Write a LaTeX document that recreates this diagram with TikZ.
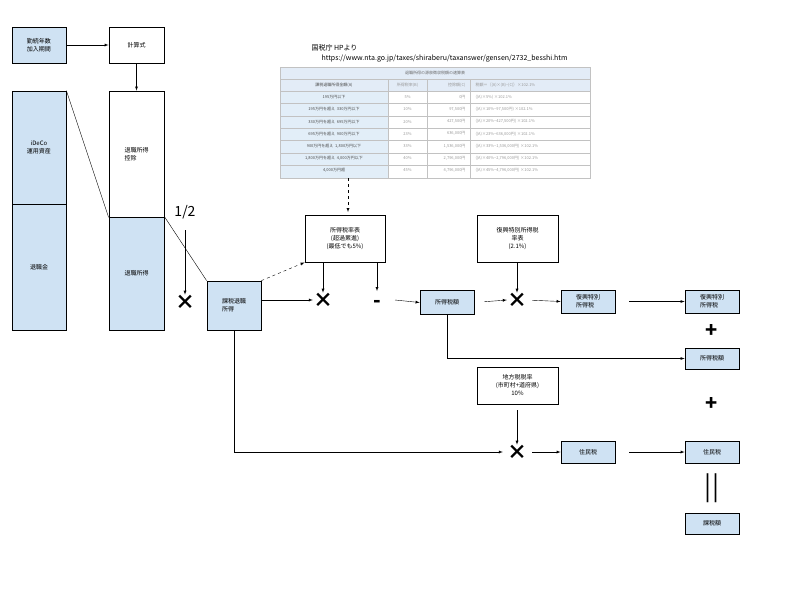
\documentclass[tikz,border=0pt]{standalone}
\usepackage{fontspec}
\setmainfont{Noto Sans CJK JP}
\usetikzlibrary{positioning,calc}
\definecolor{boxblue}{HTML}{CFE2F3}
\definecolor{tblgray}{HTML}{999999}
\definecolor{tblhead}{HTML}{E3ECF7}
\tikzset{
  box/.style={draw,thick,fill=boxblue,minimum width=54pt,font=\fontsize{6}{8}\selectfont,align=left},
  wbox/.style={draw,thick,fill=white,font=\fontsize{6}{8}\selectfont,align=center},
  op/.style={font=\fontsize{20}{20}\selectfont\bfseries,inner sep=0pt},
  arr/.style={-latex,thin},
}
\begin{document}
\begin{tikzpicture}[x=1pt,y=-1pt]
  \useasboundingbox (0,0) rectangle (800,600);
  % left columns
  \node[box,minimum height=36pt,align=center] (kinzoku) at (39,45) {勤続年数\\加入期間};
  \node[wbox,minimum width=55pt,minimum height=36pt] (keisan) at (136.5,45) {計算式};
  \draw[arr] (kinzoku) -- (keisan);
  \node[box,minimum height=113pt,align=center] (ideco) at (39,147.5) {iDeCo\\運用資産};
  \node[box,minimum height=126pt] (taishokukin) at (39,267) {退職金};
  \node[wbox,minimum width=55pt,minimum height=126pt,align=left] (kojo) at (136.5,154) {退職所得\\控除};
  \node[box,minimum width=55pt,minimum height=113pt] (shotoku) at (136.5,273.5) {退職所得};
  \draw[arr] (keisan) -- (kojo);
  \draw (ideco.north east) -- (kojo.south west);
  \node[box,minimum height=49pt] (kazei) at (234,305.5) {課税退職\\所得};
  \draw (shotoku.north east) -- (kazei.north west);
  \node[font=\fontsize{14}{14}\selectfont] (half) at (185,212) {1/2};
  \node[op] (x1) at (185,302) {×};
  \draw[arr] ($(half.south)+(0,8)$) -- (x1.north);
  % table
  \node[font=\fontsize{7}{8}\selectfont,anchor=west] (src) at (308,48) {国税庁 HPより};
  \node[font=\fontsize{7}{8}\selectfont,anchor=west] (url) at (318,59) {https://www.nta.go.jp/taxes/shiraberu/taxanswer/gensen/2732\_besshi.htm};
  \fill[tblhead] (280,67) rectangle (590,91);
  \fill[boxblue!60] (280,91) rectangle (388,178);
  \draw[tblgray!60] (280,67) rectangle (590,178);
  \foreach \y in {79,91,103.4,115.8,128.2,140.6,153,165.4} {
    \draw[tblgray!60] (280,\y) -- (590,\y);
  }
  \foreach \x in {388,427,470} {
    \draw[tblgray!60] (\x,79) -- (\x,178);
  }
  \node[font=\fontsize{4}{4}\selectfont,text=tblgray!70!black] at (435,73) {退職所得の源泉徴収税額の速算表};
  \foreach \a/\b/\c/\d [count=\i] in {
    {課税退職所得金額(A)}/{所得税率(B)}/{控除額(C)}/{税額＝｛(A)×(B)−(C)｝×102.1\%},
    {195万円以下}/{5\%}/{0円}/{((A)×5\%)\ ×102.1\%},
    {195万円を超え\ \ 330万円以下}/{10\%}/{97,500円}/{((A)×10\%−97,500円)\ ×102.1\%},
    {330万円を超え\ \ 695万円以下}/{20\%}/{427,500円}/{((A)×20\%−427,500円)\ ×102.1\%},
    {695万円を超え\ \ 900万円以下}/{23\%}/{636,000円}/{((A)×23\%−636,000円)\ ×102.1\%},
    {900万円を超え\ \ 1,800万円以下}/{33\%}/{1,536,000円}/{((A)×33\%−1,536,000円)\ ×102.1\%},
    {1,800万円を超え\ \ 4,000万円以下}/{40\%}/{2,796,000円}/{((A)×40\%−2,796,000円)\ ×102.1\%},
    {4,000万円超}/{45\%}/{4,796,000円}/{((A)×45\%−4,796,000円)\ ×102.1\%}} {
    \pgfmathsetmacro\yy{85+(\i-1)*12.2}
    \node[font=\fontsize{4}{4}\selectfont,text=tblgray!50!black] at (334,\yy) {\a};
    \node[font=\fontsize{4}{4}\selectfont,text=tblgray] at (407.5,\yy) {\b};
    \node[font=\fontsize{4}{4}\selectfont,text=tblgray,anchor=east] at (469,\yy) {\c};
    \node[font=\fontsize{4}{4}\selectfont,text=tblgray,anchor=west] at (472,\yy) {\d};
  }
  \coordinate (tbl) at (348,178);
  % income tax
  \node[wbox,minimum width=80pt,minimum height=47pt] (ritsu) at (345,238.5) {所得税率表\\(超過累進)\\(最低でも5\%)};
  \draw[arr,dashed] (tbl) -- ++(0,34);
  \draw[arr,dashed] (kazei.north east) -- (ritsu.south west);
  \node[op] (x2) at (323,300) {×};
  \node[op] (minus) at (377,304) {-};
  \draw[arr] (kazei.east |- x2) -- (x2.west);
  \draw[arr] (ritsu.south -| x2) -- (x2.north);
  \draw[arr] (ritsu.south -| minus) -- ($(minus)+(0,-13)$);
  \node[box,minimum height=24pt] (shotokuzei) at (447,302.5) {所得税額};
  \draw[arr] ($(minus)+(18,-4)$) -- (shotokuzei.west);
  \node[wbox,minimum width=81pt,minimum height=47pt] (fukko) at (517.5,238.5) {復興特別所得税\\率表\\(2.1\%)};
  \node[op] (x3) at (517,300) {×};
  \draw[arr] (fukko.south -| x3) -- (x3.north);
  \draw[arr,shorten <=10pt] (shotokuzei.east) -- (x3.west);
  \node[box,minimum height=23pt] (fukkozei) at (588,301.5) {復興特別\\所得税};
  \draw[arr,shorten <=5pt] (x3.east) -- (fukkozei.west);
  \node[box,minimum height=23pt] (fukkozei2) at (712,301.5) {復興特別\\所得税};
  \draw[arr,shorten <=14pt] (fukkozei.east) -- (fukkozei2.west);
  \node[op] (plus1) at (712,331) {+};
  \node[box,minimum height=21pt,align=center] (shotokuzei2) at (712,358.5) {所得税額};
  \draw[arr] (shotokuzei.south) |- (shotokuzei2.west);
  % resident tax
  \node[wbox,minimum width=81pt,minimum height=37pt] (chiho) at (517.5,385.5) {地方税税率\\(市町村+道府県)\\10\%};
  \node[op] (x4) at (517,452) {×};
  \draw[arr,shorten <=6pt] (chiho.south -| x4) -- (x4.north);
  \draw[arr,shorten >=4pt] (kazei.south) |- (x4.west);
  \node[box,minimum height=22pt,align=center] (jumin) at (588,452) {住民税};
  \draw[arr,shorten <=5pt] (x4.east) -- (jumin.west);
  \node[box,minimum height=22pt,align=center] (jumin2) at (712,452) {住民税};
  \draw[arr,shorten <=14pt] (jumin.east) -- (jumin2.west);
  \node[op] (plus2) at (712,404) {+};
  \node[op,font=\fontsize{26}{26}\selectfont] (eq) at (712,488) {||};
  \node[box,minimum height=21pt,align=center] (kazeigaku) at (712,523.5) {課税額};
\end{tikzpicture}
\end{document}
